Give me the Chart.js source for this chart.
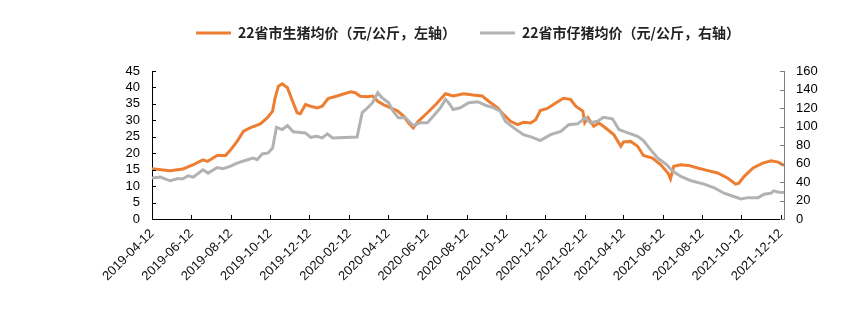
<!DOCTYPE html>
<html>
<head>
<meta charset="utf-8">
<script src="https://cdn.jsdelivr.net/npm/chart.js@4.4.0/dist/chart.umd.min.js"></script>
<style>
  html, body { margin: 0; padding: 0; background: #fff; }
</style>
</head>
<body>
<canvas id="myChart" width="866" height="336"></canvas>
<script>
'use strict';

let startDate = '2019-04-12';

// 22省市生猪均价 (元/公斤)
let hogDates = ['2019-04-12', '2019-05-10', '2019-05-30', '2019-06-15', '2019-06-30', '2019-07-07', '2019-07-22', '2019-08-04',
  '2019-08-11', '2019-08-22', '2019-09-01', '2019-09-11', '2019-09-27', '2019-10-08', '2019-10-16', '2019-10-20',
  '2019-10-25', '2019-10-31', '2019-11-08', '2019-11-16', '2019-11-23', '2019-11-28', '2019-12-06', '2019-12-14',
  '2019-12-24', '2020-01-01', '2020-01-10', '2020-01-24', '2020-02-14', '2020-02-21', '2020-02-29', '2020-03-11',
  '2020-03-19', '2020-03-27', '2020-04-05', '2020-04-16', '2020-04-27', '2020-05-06', '2020-05-14', '2020-05-21',
  '2020-05-29', '2020-06-12', '2020-06-25', '2020-07-10', '2020-07-22', '2020-08-07', '2020-08-22', '2020-09-05',
  '2020-09-15', '2020-09-29', '2020-10-08', '2020-10-19', '2020-10-30', '2020-11-08', '2020-11-19', '2020-11-27',
  '2020-12-04', '2020-12-15', '2020-12-28', '2021-01-09', '2021-01-20', '2021-01-28', '2021-02-08', '2021-02-11',
  '2021-02-16', '2021-02-25', '2021-03-05', '2021-03-12', '2021-03-28', '2021-04-08', '2021-04-12', '2021-04-23',
  '2021-05-04', '2021-05-13', '2021-05-27', '2021-06-09', '2021-06-20', '2021-06-24', '2021-06-29', '2021-07-10',
  '2021-07-22', '2021-08-05', '2021-08-21', '2021-09-05', '2021-09-21', '2021-10-03', '2021-10-08', '2021-10-16',
  '2021-10-30', '2021-11-14', '2021-11-27', '2021-12-08', '2021-12-17'];
let hogPrice = [15.3, 14.7, 15.2, 16.5, 18.0, 17.5, 19.3, 19.3,
  20.8, 23.6, 26.7, 27.7, 28.9, 30.8, 32.8, 36.9,
  40.4, 41.1, 39.9, 35.8, 32.3, 32.0, 34.8, 34.3,
  33.8, 34.3, 36.6, 37.4, 38.7, 38.4, 37.3, 37.2,
  37.4, 35.8, 34.8, 33.8, 32.8, 31.3, 29.2, 27.7,
  29.7, 32.3, 34.8, 38.1, 37.4, 38.1, 37.7, 37.4,
  35.8, 33.8, 31.8, 29.7, 28.7, 29.4, 29.2, 30.2,
  33.0, 33.6, 35.3, 36.7, 36.4, 34.3, 32.8, 29.3,
  30.8, 28.2, 29.2, 28.2, 25.7, 22.1, 23.4, 23.6,
  22.1, 19.3, 18.5, 16.5, 14.0, 12.2, 16.0, 16.5,
  16.3, 15.5, 14.7, 14.0, 12.4, 10.6, 10.9, 12.9,
  15.5, 17.0, 17.7, 17.3, 16.3];

// 22省市仔猪均价 (元/公斤)
let pigletDates = ['2019-04-12', '2019-04-25', '2019-05-10', '2019-05-21', '2019-05-30', '2019-06-07', '2019-06-15', '2019-06-30',
  '2019-07-08', '2019-07-22', '2019-07-31', '2019-08-11', '2019-08-22', '2019-09-07', '2019-09-16', '2019-09-22',
  '2019-09-30', '2019-10-09', '2019-10-16', '2019-10-22', '2019-10-31', '2019-11-08', '2019-11-17', '2019-12-06',
  '2019-12-14', '2019-12-24', '2020-01-01', '2020-01-09', '2020-01-17', '2020-02-24', '2020-03-03', '2020-03-11',
  '2020-03-19', '2020-03-27', '2020-04-03', '2020-04-13', '2020-04-20', '2020-04-28', '2020-05-09', '2020-05-21',
  '2020-06-01', '2020-06-12', '2020-06-21', '2020-07-02', '2020-07-10', '2020-07-15', '2020-07-22', '2020-08-02',
  '2020-08-15', '2020-08-29', '2020-09-10', '2020-09-23', '2020-10-03', '2020-10-11', '2020-10-24', '2020-11-08',
  '2020-11-22', '2020-12-04', '2020-12-20', '2021-01-05', '2021-01-17', '2021-01-31', '2021-02-12', '2021-02-20',
  '2021-03-03', '2021-03-12', '2021-03-26', '2021-04-05', '2021-04-19', '2021-05-04', '2021-05-13', '2021-05-24',
  '2021-06-04', '2021-06-17', '2021-06-27', '2021-07-10', '2021-07-26', '2021-08-15', '2021-08-30', '2021-09-15',
  '2021-09-30', '2021-10-11', '2021-10-22', '2021-11-07', '2021-11-16', '2021-11-27', '2021-12-01', '2021-12-09',
  '2021-12-17'];
let pigletPrice = [44.2, 45.3, 41.3, 43.4, 43.4, 46.7, 45.3, 53.2,
  49.6, 55.7, 54.3, 56.8, 60.5, 64.1, 65.9, 64.1,
  70.3, 71.4, 76.8, 99.2, 96.7, 101.0, 94.2, 93.1,
  88.3, 89.4, 87.7, 92.0, 87.7, 88.7, 115.0, 120.0,
  125.7, 136.5, 131.0, 125.7, 116.6, 109.4, 109.4, 101.0,
  104.0, 104.0, 111.0, 120.0, 129.3, 125.7, 118.4, 120.2,
  125.7, 126.8, 123.0, 120.2, 116.6, 105.7, 98.5, 91.2,
  88.3, 84.7, 91.2, 94.8, 102.0, 102.9, 109.4, 104.0,
  105.7, 110.0, 108.3, 96.7, 93.1, 89.4, 84.7, 75.0,
  65.9, 59.4, 52.1, 46.0, 41.3, 37.7, 34.0, 27.9,
  24.3, 21.7, 23.1, 23.1, 26.8, 27.9, 30.4, 29.0,
  28.6];

let xTickLabels = ['2019-04-12', '2019-06-12', '2019-08-12', '2019-10-12', '2019-12-12', '2020-02-12',
  '2020-04-12', '2020-06-12', '2020-08-12', '2020-10-12', '2020-12-12', '2021-02-12',
  '2021-04-12', '2021-06-12', '2021-08-12', '2021-10-12', '2021-12-12'];

let hogLabel = '22省市生猪均价（元/公斤，左轴）';
let pigletLabel = '22省市仔猪均价（元/公斤，右轴）';

function dayOf(s) {
  return Math.round((Date.parse(s) - Date.parse(startDate)) / 86400000);
}

function dayLabel(d) {
  return new Date(Date.parse(startDate) + d * 86400000).toISOString().slice(0, 10);
}

function toPoints(dates, values) {
  let pts = [];
  for (let i = 0; i < dates.length; i++) {
    pts.push({ x: dayOf(dates[i]), y: values[i] });
  }
  return pts;
}

// short tick marks pointing into the plot
let innerTicks = {
  id: 'innerTicks',
  afterDraw(chart) {
    let ctx = chart.ctx;
    let area = chart.chartArea;
    let sx = chart.scales.x;
    let sy = chart.scales.y;
    let sy1 = chart.scales.y1;
    ctx.save();
    ctx.lineWidth = 1;
    ctx.strokeStyle = '#000';
    ctx.beginPath();
    sx.ticks.forEach(function (t) {
      let px = Math.round(sx.getPixelForValue(t.value)) + 0.5;
      ctx.moveTo(px, area.bottom);
      ctx.lineTo(px, area.bottom - 4);
    });
    sy.ticks.forEach(function (t) {
      let py = Math.round(sy.getPixelForValue(t.value)) + 0.5;
      ctx.moveTo(area.left, py);
      ctx.lineTo(area.left + 4, py);
    });
    ctx.stroke();
    ctx.strokeStyle = '#808080';
    ctx.beginPath();
    sy1.ticks.forEach(function (t) {
      let py = Math.round(sy1.getPixelForValue(t.value)) + 0.5;
      ctx.moveTo(area.right, py);
      ctx.lineTo(area.right - 4, py);
    });
    ctx.stroke();
    ctx.restore();
  }
};

// extra room under the legend
let legendGap = {
  id: 'legendGap',
  beforeInit(chart) {
    let fit = chart.legend.fit;
    chart.legend.fit = function () {
      fit.bind(chart.legend)();
      this.height += 21;
    };
  }
};

let tickFont = { family: "'Liberation Sans', Arial, sans-serif", size: 13 };

let ctx = document.getElementById('myChart').getContext('2d');
let chart = new Chart(ctx, {
  type: 'line',
  data: {
    datasets: [{
      label: hogLabel,
      data: toPoints(hogDates, hogPrice),
      borderColor: '#ED7D31',
      backgroundColor: '#ED7D31',
      borderWidth: 3,
      pointRadius: 0,
      tension: 0,
      yAxisID: 'y',
      order: 1
    }, {
      label: pigletLabel,
      data: toPoints(pigletDates, pigletPrice),
      borderColor: '#B2B2B2',
      backgroundColor: '#B2B2B2',
      borderWidth: 3,
      pointRadius: 0,
      tension: 0,
      yAxisID: 'y1',
      order: 0
    }]
  },
  options: {
    responsive: false,
    animation: false,
    devicePixelRatio: 1,
    layout: { padding: { left: 112, right: 42, top: 16, bottom: 37 } },
    plugins: {
      tooltip: { enabled: false },
      legend: {
        position: 'top',
        labels: {
          boxWidth: 35,
          boxHeight: 3,
          padding: 10,
          color: '#222',
          font: { family: "'Noto Sans CJK SC', sans-serif", size: 14, weight: 'bold' },
          sort: function (a, b) { return a.datasetIndex - b.datasetIndex; },
          generateLabels: function (ch) {
            let items = Chart.defaults.plugins.legend.labels.generateLabels(ch);
            items.forEach(function (it) {
              it.lineWidth = 0;
              if (it.datasetIndex === 0) it.text = it.text + '\u3000\u2002';
            });
            return items;
          }
        }
      }
    },
    scales: {
      x: {
        type: 'linear',
        min: 0,
        max: dayOf(hogDates[hogDates.length - 1]),
        afterBuildTicks: function (scale) {
          scale.ticks = xTickLabels.map(function (s) { return { value: dayOf(s) }; });
        },
        afterFit: function (scale) { scale.height = 80; },
        grid: { display: true, drawOnChartArea: false, drawTicks: false },
        border: { display: true, color: '#000', width: 1 },
        ticks: {
          autoSkip: false,
          minRotation: 45,
          maxRotation: 45,
          padding: 7,
          color: '#111',
          font: { family: "'Liberation Sans', Arial, sans-serif", size: 13 },
          callback: function (value) { return dayLabel(value); }
        }
      },
      y: {
        position: 'left',
        min: 0,
        max: 45,
        afterFit: function (scale) { scale.width = 40; },
        grid: { display: true, drawOnChartArea: false, drawTicks: false },
        border: { display: true, color: '#000', width: 1 },
        ticks: { stepSize: 5, autoSkip: false, padding: 12, color: '#000', font: tickFont }
      },
      y1: {
        position: 'right',
        min: 0,
        max: 160,
        afterFit: function (scale) { scale.width = 40; },
        grid: { display: true, drawOnChartArea: false, drawTicks: false },
        border: { display: true, color: '#808080', width: 1 },
        ticks: { stepSize: 20, autoSkip: false, padding: 12, color: '#000', font: tickFont }
      }
    }
  },
  plugins: [innerTicks, legendGap]
});
</script>
</body>
</html>
